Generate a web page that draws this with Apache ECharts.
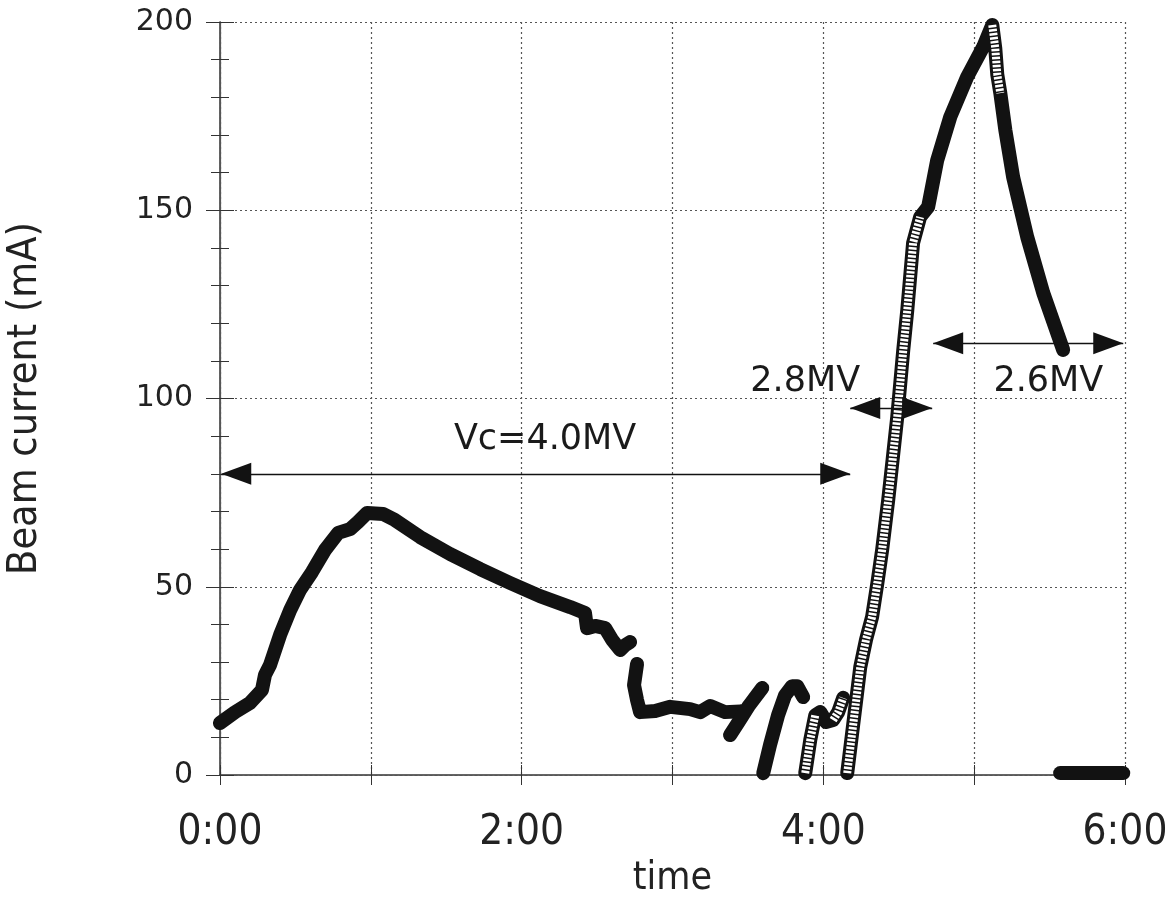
<!DOCTYPE html>
<html>
<head>
<meta charset="utf-8">
<script src="https://cdn.jsdelivr.net/npm/echarts@6/dist/echarts.min.js"></script>
<style>
  html, body { margin: 0; padding: 0; background: #fff; }
  #chart { width: 1176px; height: 905px; }
</style>
</head>
<body>
<div id="chart"></div>
<script>
// ─── Data (x in minutes since 0:00, y in mA) ─────────────────────────────

// first fill at Vc = 4.0 MV : ramp up, decay, then wobbles
const rampUp = [
  [0, 13.8], [6, 16.7], [11.9, 19.1], [16.7, 22.6], [17.9, 26.6], [19.9, 29.2],
  [23.9, 37.2], [27.9, 43.8], [31.8, 49.1], [36.6, 53.9], [41.8, 59.8],
  [47.0, 64.3], [51.7, 65.3], [54.9, 67.2], [58.5, 69.6], [64.9, 69.3],
  [69.6, 67.7], [79.6, 63.2], [91.5, 58.7], [103.5, 54.7], [115.4, 51.0],
  [127.3, 47.5], [139.3, 44.6], [145.2, 43.0], [146.0, 39.0], [149.2, 39.6],
  [153.2, 39.0], [156.0, 35.9], [159.2, 33.2], [161.2, 34.5], [163.1, 35.3]
];
const plateau = [
  [165.9, 29.5], [164.7, 23.9], [165.9, 19.9], [167.1, 16.7], [173.1, 17.0],
  [179.1, 18.1], [187.0, 17.5], [191.0, 16.7], [195.0, 18.3], [200.9, 16.7],
  [207.0, 16.9]
];
const spike = [[202.9, 10.6], [206.5, 14.3], [210.5, 18.5], [215.7, 23.1]];
const refill1 = [
  [216.1, 0.5], [218.8, 8.0], [222.0, 15.9], [224.8, 21.2], [227.6, 23.6],
  [229.6, 23.6], [232.0, 20.7]
];
const refill2 = [
  [232.8, 0.5], [234.8, 9.3], [236.8, 15.9], [238.8, 16.7], [241.1, 14.1],
  [243.9, 14.6], [245.9, 16.7], [247.9, 20.5]
];
// 2.8 MV ramp up to the 200 mA peak, then 2.6 MV decay
const ramp28 = [
  [249.5, 0.5], [254.7, 28.7], [257.0, 36.0], [259.4, 42.0], [261.5, 51.0],
  [263.4, 59.8], [265.8, 73.0], [267.6, 84.0], [269.4, 95.1], [271.8, 112.9],
  [273.4, 123.5], [275.7, 141.3], [278.5, 148.2], [281.7, 150.9],
  [285.3, 163.3], [290.5, 174.8], [297.2, 185.4], [303.6, 193.4], [307.2, 199.2]
];
const decay26 = [
  [307.2, 199.2], [308.4, 193.0], [309.2, 186.0], [310.4, 181.1], [312.4, 171.3],
  [315.5, 158.8], [321.1, 142.9], [327.5, 128.0], [335.4, 112.9]
];
const dumped = [[334.2, 0.5], [359.3, 0.5]];

// stretches drawn with open markers
const hollowParts = [
  ramp28.slice(0, 13),
  decay26.slice(0, 4),
  refill2.slice(0, 3),
  refill2.slice(5)
];

// voltage annotations: [from, to, level] (arrow tips), label [x, y]
const arrowRanges = [[0.5, 250.7, 80], [250.7, 283.3, 97.5], [283.7, 359.3, 114.7]];
const arrowTexts = ['Vc=4.0MV', '2.8MV', '2.6MV'];
const arrowTextPos = [[129.3, 89], [232.8, 104.4], [329.5, 104.4]];

const xTicks = [0, 120, 240, 360];

// ─── Styles ───────────────────────────────────────────────────────────────

const INK = '#121212';
const NARROW = "'Liberation Sans Narrow', 'DejaVu Sans Condensed', 'Roboto Condensed', sans-serif";
const WIDE = "'DejaVu Sans', Verdana, sans-serif";
const DOT = { color: '#555', width: 1.2, type: [2, 3] };

function trace(data, z) {
  return {
    type: 'line', data, showSymbol: false, silent: true, z: z || 3,
    lineStyle: { color: INK, width: 14, cap: 'round', join: 'round' }
  };
}

function hollow(data) {
  return {
    type: 'line', data, showSymbol: false, silent: true, z: 4,
    lineStyle: { color: '#fff', width: 8, type: [2.5, 1.5], cap: 'butt' }
  };
}

function fmtTime(v) {
  return xTicks.includes(v) ? (v / 60) + ':00' : '';
}

// ─── Chart ────────────────────────────────────────────────────────────────

const chart = echarts.init(document.getElementById('chart'));

const series = [
  trace(rampUp), trace(plateau), trace(spike), trace(refill1), trace(refill2),
  trace(ramp28.concat(decay26.slice(1))),
  ...hollowParts.map(hollow),
  Object.assign(trace(dumped), {
    markLine: {
      silent: true,
      symbol: ['triangle', 'triangle'],
      symbolSize: [22, 30],
      symbolOffset: [[0, 15], [0, 15]],
      lineStyle: { color: INK, width: 1.3, type: 'solid' },
      label: { show: false },
      data: arrowRanges.map(r => [{ coord: [r[0], r[2]] }, { coord: [r[1], r[2]] }])
    }
  }),
  {
    type: 'scatter', symbolSize: 0, silent: true, z: 5,
    data: arrowTexts.map((t, i) => ({ name: t, value: arrowTextPos[i] })),
    itemStyle: { opacity: 1 },
    label: {
      show: true, position: 'inside', formatter: p => p.name,
      fontFamily: WIDE, fontSize: 35, color: '#1a1a1a',
      textBorderWidth: 0, opacity: 1
    }
  }
];

chart.setOption({
  animation: false,
  backgroundColor: '#fff',
  grid: { left: 220, right: 51, top: 22, bottom: 130, outerBoundsMode: 'none', containLabel: false },
  xAxis: [
    {
      type: 'value', min: 0, max: 360, interval: 60,
      name: 'time', nameLocation: 'middle', nameGap: 82,
      nameTextStyle: { fontFamily: NARROW, fontSize: 39, color: '#222' },
      axisLine: { lineStyle: { color: '#333', width: 1.5 } },
      axisTick: { inside: true, length: 10, lineStyle: { color: '#333' } },
      axisLabel: { formatter: fmtTime, fontFamily: NARROW, fontSize: 42, color: '#222', margin: 37 },
      splitLine: { show: true, lineStyle: DOT }
    },
    {
      type: 'value', min: 0, max: 360, interval: 60, position: 'top',
      axisLine: { show: true, lineStyle: DOT },
      axisTick: { show: true, inside: true, length: 10, lineStyle: { color: '#333' } },
      axisLabel: { show: false },
      splitLine: { show: false }
    }
  ],
  yAxis: [
    {
      type: 'value', min: 0, max: 200, interval: 50,
      name: 'Beam current (mA)', nameLocation: 'middle', nameGap: 174, nameRotate: 90,
      nameTextStyle: { fontFamily: NARROW, fontSize: 41, color: '#222' },
      axisLine: { show: true, lineStyle: { color: '#333', width: 1.5 } },
      axisTick: { show: true, inside: true, length: 14, lineStyle: { color: '#333' } },
      minorTick: { show: true, splitNumber: 5, length: 9, lineStyle: { color: '#333' } },
      axisLabel: { fontFamily: WIDE, fontSize: 30, color: '#222', margin: 27 },
      splitLine: { show: true, lineStyle: DOT }
    },
    {
      type: 'value', min: 0, max: 200, interval: 50, position: 'right',
      axisLine: { show: true, lineStyle: { color: '#555', width: 1.2 } },
      axisTick: { show: true, inside: true, length: 14, lineStyle: { color: '#333' } },
      minorTick: { show: true, splitNumber: 5, length: 9, lineStyle: { color: '#333' } },
      axisLabel: { show: false },
      splitLine: { show: false }
    }
  ],
  series
});
</script>
</body>
</html>
